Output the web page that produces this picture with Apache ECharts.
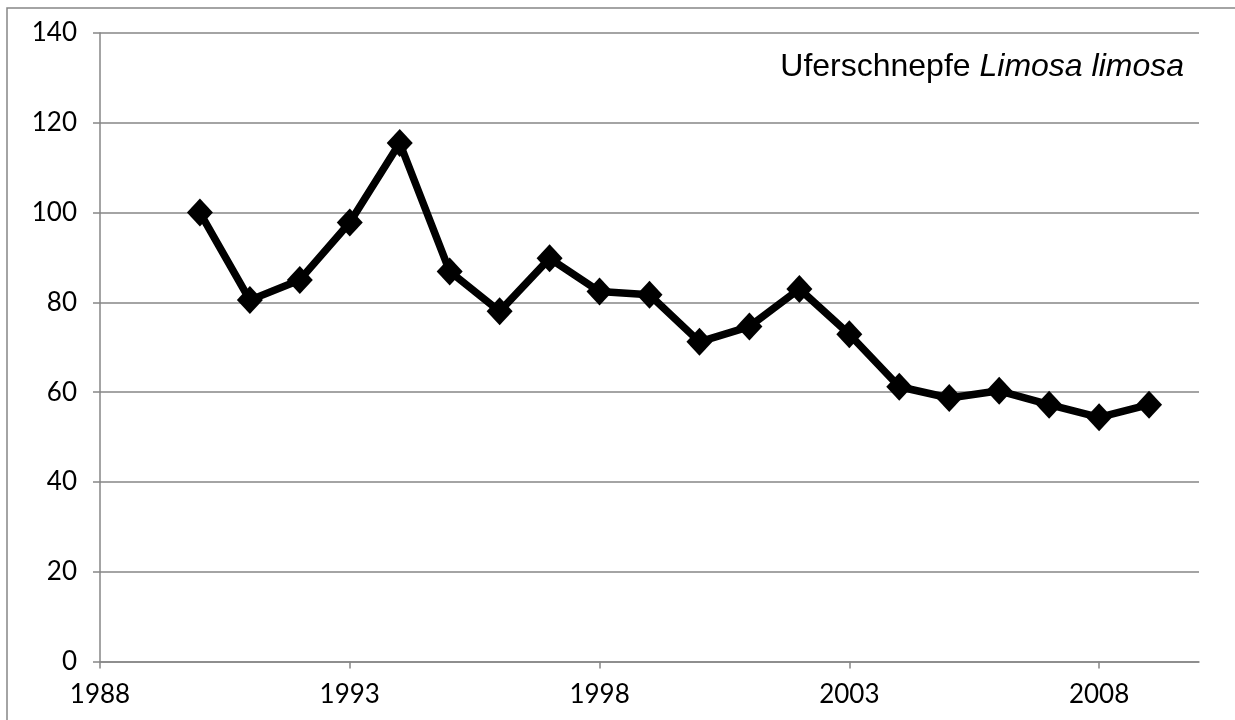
<!DOCTYPE html>
<html>
<head>
<meta charset="utf-8">
<script src="https://cdn.jsdelivr.net/npm/echarts@6/dist/echarts.min.js"></script>
<style>
  html, body { margin: 0; padding: 0; background: #fff; }
  #chart { width: 1235px; height: 720px; }
</style>
</head>
<body>
<div id="chart"></div>
<script>
// Breeding index of the black-tailed godwit, 1990 = 100
const years = [1990, 1991, 1992, 1993, 1994, 1995, 1996, 1997, 1998, 1999,
               2000, 2001, 2002, 2003, 2004, 2005, 2006, 2007, 2008, 2009];
const indexValues = [100, 80.5, 85.0, 97.8, 115.5, 86.9, 78.0, 89.8, 82.4, 81.7,
                     71.2, 74.6, 83.0, 72.9, 61.2, 58.7, 60.3, 57.2, 54.4, 57.2];
const yearTicks = [1988, 1993, 1998, 2003, 2008];
const speciesName = 'Uferschnepfe';
const latinName = 'Limosa limosa';

const gray = '#868686';
const labelFont = 'Lato, "Open Sans", sans-serif';
const titleFont = '"Liberation Sans", Arial, sans-serif';

const chart = echarts.init(document.getElementById('chart'));
chart.setOption({
  animation: false,
  backgroundColor: '#fff',
  grid: { left: 100, right: 36, top: 33, bottom: 58.5 },
  title: {
    text: '{n|' + speciesName + ' }{i|' + latinName + '}',
    right: 46,
    top: 46,
    textStyle: {
      rich: {
        n: { fontFamily: titleFont, fontSize: 32, fontWeight: 'normal', color: '#000' },
        i: { fontFamily: titleFont, fontSize: 32, fontWeight: 'normal', fontStyle: 'italic', color: '#000' }
      }
    }
  },
  xAxis: {
    type: 'value',
    min: 1988,
    max: 2010,
    axisLine: { show: true, lineStyle: { color: gray, width: 1.5 } },
    axisTick: { show: true, length: 7, customValues: yearTicks, lineStyle: { color: gray, width: 1.5 } },
    axisLabel: {
      customValues: yearTicks,
      formatter: v => String(v),
      margin: 20,
      fontFamily: labelFont,
      fontSize: 26,
      color: '#000'
    },
    splitLine: { show: false }
  },
  yAxis: {
    type: 'value',
    min: 0,
    max: 140,
    interval: 20,
    axisLine: { show: true, lineStyle: { color: gray, width: 1.5 } },
    axisTick: { show: true, length: 7, lineStyle: { color: gray, width: 1.5 } },
    axisLabel: {
      margin: 23,
      fontFamily: labelFont,
      fontSize: 26,
      color: '#000'
    },
    splitLine: { show: true, lineStyle: { color: gray, width: 1.5 } }
  },
  graphic: [{
    type: 'rect',
    shape: { x: 7, y: 8, width: 1400, height: 900 },
    style: { fill: null, stroke: gray, lineWidth: 1.5 },
    z: 100
  }],
  series: [{
    type: 'line',
    data: years.map((y, i) => [y, indexValues[i]]),
    lineStyle: { color: '#000', width: 7.5 },
    itemStyle: { color: '#000' },
    symbol: 'diamond',
    symbolSize: [26, 28],
    showSymbol: true,
    z: 3
  }]
});
</script>
</body>
</html>
